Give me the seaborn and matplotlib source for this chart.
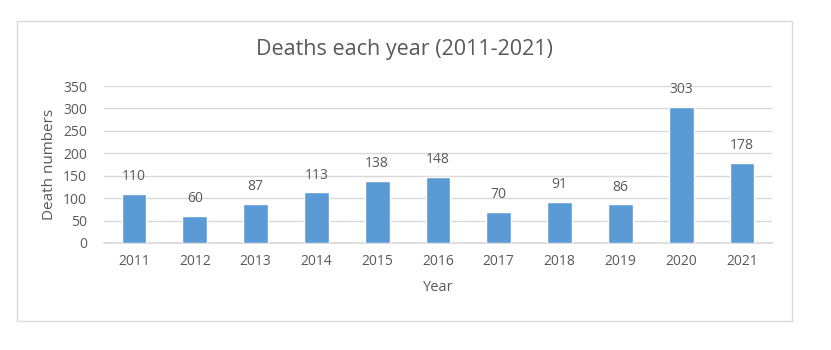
import matplotlib
matplotlib.use("Agg")
import matplotlib.pyplot as plt
import seaborn as sns
import pandas as pd
from matplotlib.patches import Rectangle

years = ["2011", "2012", "2013", "2014", "2015", "2016", "2017", "2018", "2019", "2020", "2021"]
deaths = [110, 60, 87, 113, 138, 148, 70, 91, 86, 303, 178]
y_ticks = [0, 50, 100, 150, 200, 250, 300, 350]

sns.set_theme(style="white")
plt.rcParams["font.family"] = ["Open Sans", "DejaVu Sans"]
text_color = "#595959"

df = pd.DataFrame({"Year": years, "Deaths": deaths})

fig = plt.figure(figsize=(8.31, 3.5), dpi=100)
ax = fig.add_axes([103.6 / 831, 1 - 243 / 350, (772.4 - 103.6) / 831, (243 - 86) / 350])

# chart frame
fig.patches.append(Rectangle((17 / 831, 1 - 321 / 350), 775 / 831, 300 / 350,
                             transform=fig.transFigure, fill=False,
                             edgecolor="#D9D9D9", linewidth=1.0))

sns.barplot(data=df, x="Year", y="Deaths", color="#5B9BD5", width=0.41,
            saturation=1, ax=ax, zorder=3)

ax.set_ylim(0, 350)
ax.set_yticks(y_ticks)
ax.set_xlim(-0.5, len(years) - 0.5)
ax.yaxis.grid(True, color="#D9D9D9", linewidth=1.0, zorder=0)
ax.xaxis.grid(False)
for s in ["top", "right", "left"]:
    ax.spines[s].set_visible(False)
ax.spines["bottom"].set_color("#D9D9D9")
ax.tick_params(axis="both", length=0, labelsize=10, colors=text_color, pad=8)
ax.tick_params(axis="y", pad=12)

for i, v in enumerate(deaths):
    ax.annotate(str(v), (i, v), xytext=(0, 7), textcoords="offset points",
                ha="center", va="bottom", fontsize=10, color=text_color)

ax.set_xlabel("Year", fontsize=10.5, color=text_color, labelpad=8)
ax.set_ylabel("Death numbers", fontsize=11, color=text_color, labelpad=4)
fig.text(404 / 831, 1 - 50 / 350, "Deaths each year (2011-2021)", ha="center",
         va="center", fontsize=15.5, color=text_color)

fig.savefig("out.png", dpi=100, facecolor="white")
